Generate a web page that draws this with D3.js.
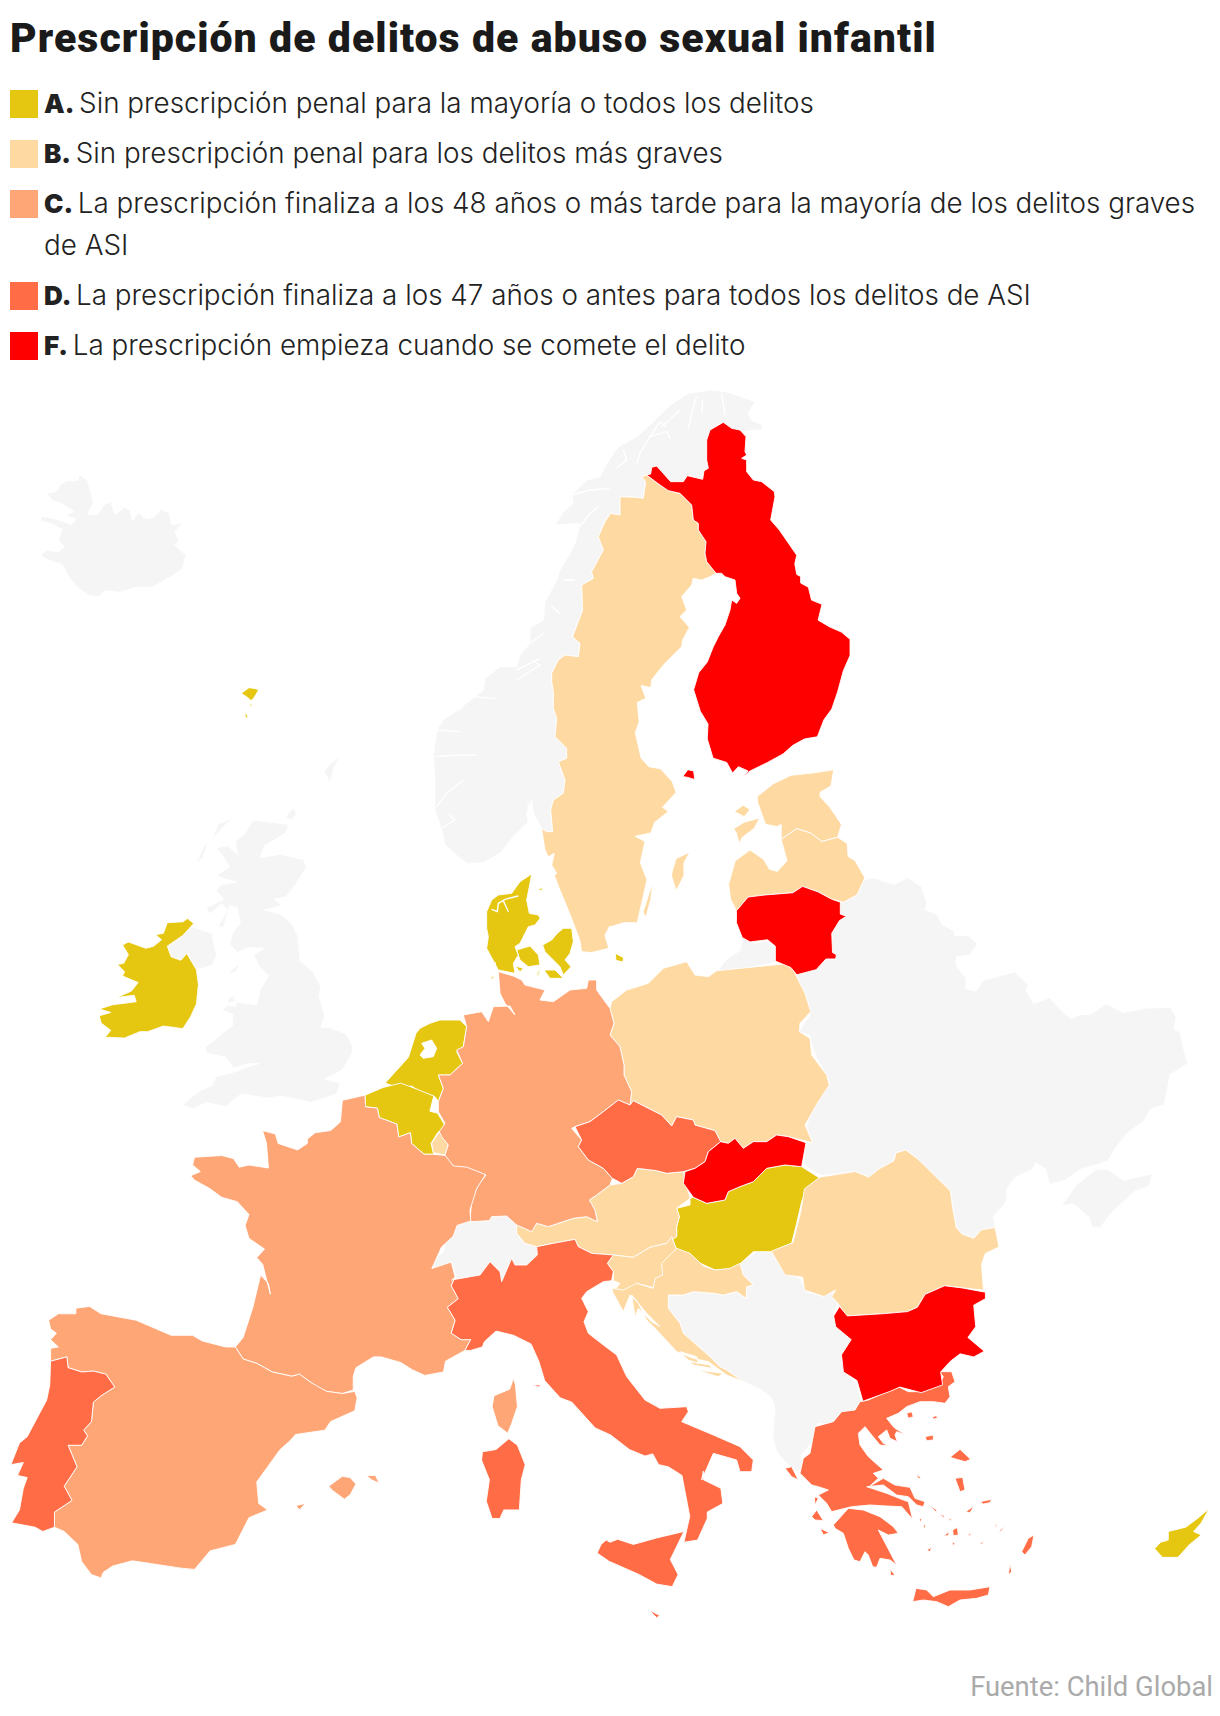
<!DOCTYPE html>
<html>
<head>
<meta charset="utf-8">
<script src="https://d3js.org/d3.v7.min.js"></script>
<style>
  html, body { margin: 0; background: #fff; }
  text { font-family: "Inter", sans-serif; }
</style>
</head>
<body>
<div id="chart"></div>
<script>
// page size
var svgWidth = 1220;
var svgHeight = 1716;

// legend
var categoryKeys = ["A", "B", "C", "D", "F"];
var categoryColors = ["#e5c610", "#fed9a2", "#fea676", "#ff6c45", "#ff0000"];
var categoryLabels = [
  ["Sin prescripción penal para la mayoría o todos los delitos"],
  ["Sin prescripción penal para los delitos más graves"],
  ["La prescripción finaliza a los 48 años o más tarde para la mayoría de los delitos graves", "de ASI"],
  ["La prescripción finaliza a los 47 años o antes para todos los delitos de ASI"],
  ["La prescripción empieza cuando se comete el delito"]
];
var noDataColor = "#f5f5f5";
var titleText = "Prescripción de delitos de abuso sexual infantil";
var sourceText = "Fuente: Child Global";

// a ring is a list of [sheet, "x,y x,y ..."] runs
var sheetNames = ["NW", "NE", "SW", "SE", "C", "B", "N", "S", "G", "D"];
var sheetGrid = [[1568, 1568], [1568, 1568], [1568, 1568], [1568, 1568], [1320, 1320], [900, 900], [900, 900], [600, 780], [810, 750], [450, 390]];
var sheetExtent = [[0, 380, 610, 670], [610, 380, 610, 670], [0, 1040, 610, 676], [610, 1040, 610, 676], [400, 960, 440, 440], [580, 1180, 300, 300], [480, 380, 300, 300], [420, 640, 200, 260], [780, 1370, 270, 250], [470, 870, 150, 130]];

// countries without a category
var iceland = [[["NW", "205,222 225,235 240,285 225,315 250,315 270,290 285,285 295,315 320,298 335,305 340,330 355,310 375,325 395,322 415,302 435,312 442,338 470,335 450,355 460,378 448,385 478,410 470,440 450,455 420,470 390,485 350,485 310,497 270,493 255,507 230,505 205,490 180,465 160,432 120,420 105,410 120,398 150,403 165,390 150,375 160,350 130,335 105,330 105,318 140,325 185,338 195,325 170,318 190,308 160,290 135,282 120,265 145,260 155,245 175,235 200,235"]]];
var shetland = [[["NW", "872,882 860,890 848,900 832,915 845,935 838,952 850,935 858,910"]], [["NW", "740,1015 755,1000 762,1015 750,1030 735,1025"]]];
var britain = [
  [["NW", "650,1030 742,1040 735,1060 680,1090 668,1118 720,1110 780,1122 788,1140 760,1180 735,1210 705,1215 725,1230 680,1240 720,1250 750,1272 765,1300 772,1360 805,1385 825,1420 820,1440 835,1490 825,1515 845,1515 890,1530 907,1560"],
   ["SW", "905,30 880,70 835,90 875,100 865,125 800,145 750,135 720,130 690,135 620,125 580,155 530,145 495,160 470,150 510,120 545,105 555,85 600,75 645,60 665,55 640,55 600,65 580,40 530,30 525,0"],
   ["NW", "530,1560 570,1530 598,1510 598,1485 570,1475 595,1455 660,1462 670,1425 690,1395 665,1370 652,1345 680,1330 640,1328 610,1340 590,1320 600,1290 618,1272 610,1235 590,1230 575,1280 560,1280 585,1240 570,1225 540,1250 530,1235 575,1215 555,1195 570,1180 610,1175 578,1168 555,1160 590,1140 570,1110 555,1095 585,1090 610,1110 605,1080 630,1060"]],
  [["NW", "495,1280 545,1295 552,1330 558,1345 545,1370 515,1378 495,1375 485,1340 465,1358 440,1350 430,1325 470,1300"]],
  [["NW", "600,1025 575,1045 545,1075 560,1040"]],
  [["NW", "525,1090 535,1080 520,1120 505,1130"]],
  [["NW", "585,1450 600,1440 607,1465 590,1465"]],
  [["NW", "590,1385 615,1365 610,1380 595,1390"]]
];
var norway = [[
  ["N", "15,895 60,860 110,860 120,825 150,790 150,745 190,720 195,665 230,600 240,570 270,520 285,490 300,430 225,435 250,395 280,370 275,345 320,300 360,290 380,250 415,200 470,170 520,125 570,75 625,40 690,30 740,35 825,65 805,100 815,120 848,135 845,150 820,150 800,155 780,150 755,145 730,127 690,150 680,180 680,240 685,265 672,272 668,298 622,287 610,305 572,305 530,258 515,262 512,282 500,285 485,290 497,305 490,355 465,352 420,350 420,405 392,400 375,425 355,470 370,510 335,575 340,595 305,615 308,690 278,770 300,790 295,830 255,825 235,840 215,880 215,900"],
  ["S", "395,125 400,155 400,205 410,235 405,290 440,325 440,355 415,365 435,420 430,460 400,480 392,510 398,575 380,575 365,565 340,520 335,480 320,520 325,545 280,590 240,640 190,668 140,670 120,655 75,615 65,570 45,510 45,420 40,350 50,270 70,240 120,205 190,150"]
]];
var easternBlock = [
  [["NE", "600,1222 635,1205 650,1170 680,1165 710,1175 730,1180 765,1165 800,1185 815,1225 810,1240 840,1250 855,1275 885,1290 885,1300 920,1300 945,1320 925,1345 890,1350 890,1370 915,1400 915,1425 940,1430 960,1405 1000,1395 1040,1385 1075,1415 1070,1430 1090,1460 1130,1445 1165,1480 1185,1495 1210,1485 1235,1485 1275,1460 1320,1480 1380,1470 1440,1468 1455,1490 1450,1520 1465,1525 1475,1567"],
   ["SE", "1485,55 1440,80 1425,150 1390,160 1370,190 1330,215 1300,250 1280,280 1250,290 1210,300 1170,325 1130,335 1120,300 1095,285 1085,300 1040,320 1020,345 1020,370 1010,385 985,410 990,435 955,440 935,460 905,450 890,435 880,385 875,350 830,310 790,275 760,255 735,262 730,280 690,300 665,318 630,305 545,315 515,300 500,290 500,240 520,235 505,205 515,165 550,120 565,100 555,80 530,40 515,0"],
   ["NE", "515,1567 515,1535 485,1525 515,1485 500,1445 470,1400 480,1392 530,1380 555,1355 580,1355 582,1345 572,1340 570,1295 590,1265 608,1255 592,1250 592,1222"]],
  [["SE", "1160,385 1200,335 1250,300 1280,300 1320,325 1395,310 1385,340 1350,350 1290,400 1260,435 1240,435 1230,410 1190,380"]],
  [["NE", "275,1385 345,1378 428,1362 422,1330 405,1312 375,1318 340,1305 335,1335 300,1355"]]
];
var switzerland = [[["C", "165,795 210,785 268,782 275,770 320,768 350,795 350,820 375,850 410,850 412,885 380,915 345,915 335,895 305,965 300,935 270,905 240,945 170,958 155,905 95,928 105,900 130,875 135,850 165,815"]]];
var andorra = [[["SW", "800,795 820,795 818,808 805,808"]]];
var westBalkans = [[["B", "480,250 530,215 575,215 612,245 620,280 660,295 670,315 680,335 735,350 745,330 775,345 770,378 760,405 775,445 810,470 815,490 785,520 790,575 830,610 845,665 835,690 780,705 750,735 715,730 705,775 665,825 668,870 650,875 620,850 590,815 578,770 585,685 575,655 545,630 490,605 440,570 420,560 390,530 310,460 300,430 265,385 265,345 310,345 340,335 400,340 430,345 470,335 498,355 500,320 520,315 490,285"]]];

// white fjords cut into the grey of Norway
var fjordLines = [
  ["N", "560,140 540,125 510,170 480,220 470,250"],
  ["N", "430,210 440,240 410,265"],
  ["N", "510,170 560,155 570,175"],
  ["N", "625,145 640,80 650,50"],
  ["N", "665,100 668,60"],
  ["N", "725,40 735,105"],
  ["N", "600,90 545,140"],
  ["N", "275,345 330,330 390,325"],
  ["N", "355,380 330,400 300,440"],
  ["N", "250,600 285,600"],
  ["N", "215,680 240,700"],
  ["N", "150,790 190,760"],
  ["N", "110,870 180,835"],
  ["S", "45,350 115,345 170,345"],
  ["S", "50,270 120,275"],
  ["S", "115,215 150,170 225,175"],
  ["S", "290,120 360,75 335,60"],
  ["S", "130,420 80,460 50,500"],
  ["S", "85,520 105,540 65,565"],
  ["S", "325,490 325,545"]
];

// category A
var ireland = [[["NW", "498,1272 482,1260 470,1268 430,1270 420,1295 400,1298 415,1310 395,1325 375,1330 330,1315 315,1322 330,1345 318,1365 302,1368 320,1385 315,1395 355,1410 338,1430 300,1445 345,1440 350,1455 290,1462 255,1472 285,1480 255,1488 260,1505 270,1512 285,1522 270,1538 320,1540 360,1525 380,1525 420,1512 470,1518 490,1490 505,1460 510,1415 505,1380 480,1342 465,1358 440,1350 430,1325 470,1300"]]];
var faroe = [[["NW", "622,732 640,720 655,722 665,725 652,745 645,750 632,740 622,735"]], [["NW", "640,755 648,762 645,766"]], [["NW", "630,776 637,788 634,793 630,785"]]];
var denmark = [
  [["D", "185,12 150,35 125,70 85,75 65,90 50,125 50,175 55,200 50,235 85,300 135,310 130,280 145,255 135,230 150,220 175,170 195,165 210,145 205,135 178,130 170,90 178,50"]],
  [["D", "140,240 180,228 205,255 210,285 175,290 150,270"]],
  [["D", "218,225 245,210 262,190 280,175 305,175 310,215 300,250 285,270 303,290 280,315 270,290 250,270 225,245"]],
  [["D", "222,300 255,300 280,325 240,325"]],
  [["D", "135,288 160,295 150,305"]],
  [["D", "200,315 213,285 205,317"]],
  [["D", "205,58 220,52 213,63"]],
  [["D", "70,275 78,280 70,283"]],
  [["D", "65,320 75,320 62,330"]],
  [["NE", "14,1342 35,1352 33,1362 15,1358"]]
];
var limfjord = [
  ["D", "65,118 82,125 85,100 105,88 145,78"],
  ["D", "100,92 115,125"]
];
var netherlands = [
  [["C", "48,220 60,205 90,190 120,180 180,180 200,200 190,260 170,275 188,310 150,345 115,345 130,385 115,425 105,410 60,395 35,378 0,385"], ["SW", "990,100 1020,70 1050,40"]],
  [["C", "65,250 95,240 110,265 100,290 70,295 60,285 75,265"]]
];
var belgium = [[["SW", "938,128 985,110 1030,100 1060,110 1115,130 1105,165 1125,170 1145,200 1125,215 1108,240 1115,265 1090,265 1058,240 1055,215 1025,225 1020,195 975,180 970,158 940,155"]]];
var hungary = [[["C", "870,715 880,712 920,730 975,720 985,695 1020,680 1060,665 1100,625 1155,615 1205,620 1260,655 1225,680 1205,725 1190,790 1175,850 1115,875 1060,875 1000,930 945,930 890,905 830,870 815,830 830,830 830,800 838,770 830,745 870,735"]]];
var cyprus = [[["SE", "1400,1180 1415,1165 1435,1160 1435,1140 1480,1130 1510,1110 1540,1087 1520,1120 1500,1140 1520,1148 1490,1170 1460,1200 1420,1200"]]];

// category B
var sweden = [
  [["N", "485,290 500,285 540,315 565,332 600,340 635,375 640,420 655,430 655,450 678,485 675,520 680,545 708,580 690,590 665,600 640,595 635,615 605,650 620,690 600,710 628,742 608,780 605,800 555,850 530,880 515,900"],
   ["NE", "105,720 80,715 92,745 70,755 75,800 65,825 80,885 100,905 130,910 160,940 170,965 135,1000 150,1010 115,1035 105,1060 65,1068 90,1080 78,1130 95,1170 70,1270 35,1270 0,1280"],
   ["NW", "1567,1278 1555,1300 1565,1330 1520,1340 1495,1338 1490,1310 1465,1250 1440,1195 1425,1160"],
   ["S", "410,700 395,675 403,640 385,650 375,630 370,600 365,565 380,575 398,575 392,510 400,480 430,460 435,420 415,365 440,355 440,325 405,290 410,235 400,205 400,155 395,125"],
   ["N", "215,900 215,880 235,840 255,825 295,830 300,790 278,770 308,690 305,615 340,595 335,575 370,510 355,470 375,425 392,400 420,405 420,350 465,352 490,355 497,305"]],
  [["NE", "160,1150 170,1120 205,1105 190,1130 190,1160 170,1195 158,1160"]],
  [["NE", "110,1175 85,1245 92,1258 105,1215"]]
];
var estonia = [
  [["NE", "378,975 420,945 465,925 520,920 575,912 568,950 540,965 540,975 565,1000 595,1040 585,1070 545,1080 515,1060 480,1050 440,1075 440,1040 430,1045 400,1040 380,990"]],
  [["NE", "318,1050 345,1035 385,1025 370,1050 340,1070 332,1085 325,1060"]],
  [["NE", "320,1010 342,995 360,1005 345,1022"]]
];
var latvia = [[["NE", "440,1075 480,1050 515,1060 545,1080 585,1070 610,1085 612,1115 630,1125 655,1165 635,1205 600,1222 570,1215 535,1198 495,1185 470,1200 400,1205 355,1210 325,1242 310,1215 305,1180 322,1125 360,1100 395,1122 410,1145 430,1150 455,1125"]]];
var poland = [[["C", "635,125 680,90 745,70 790,25 860,5 885,45 925,50 950,32 1170,10 1190,50 1215,100 1232,155 1200,190 1198,215 1230,235 1235,285 1280,345 1288,375 1255,425 1215,495 1238,548 1165,530 1130,525 1100,545 1060,545 1030,565 1005,535 985,550 962,545 945,512 885,495 880,480 830,470 815,498 785,465 765,455 700,422 690,435 695,395 672,345 672,315 660,260 630,225 642,190 630,145"]]];
var luxembourg = [[["C", "118,515 95,550 100,578 135,585 145,555"]]];
var austria = [[["C", "350,795 395,815 410,790 445,800 475,790 520,775 560,770 592,785 585,750 568,720 590,705 630,675 665,670 700,650 712,625 770,632 800,640 850,635 870,715 830,745 838,770 830,800 830,830 800,850 750,862 700,892 640,885 575,880 535,860 525,838 460,850 410,860 375,850 350,820"]]];
var slovenia = [[["C", "640,885 700,892 750,862 800,850 815,830 830,870 790,905 790,945 765,960 770,985 710,970 690,990 640,995 660,970 640,962 640,935 622,910"]]];
var croatia = [
  [["B", "290,205 330,220 370,258 405,270 450,265 480,250 490,285 520,315 500,320 498,355 470,335 430,345 400,340 340,335 310,345 265,345 265,385 300,430 310,460 390,530 420,560 440,570 490,605 440,585 385,545 340,535 290,515 235,455 200,420 175,370 150,345 130,395 100,340 95,325 130,330 170,310 220,325 225,295 248,285 245,250"]],
  [["B", "300,515 350,530 355,550 325,540"]],
  [["B", "330,545 390,555 395,565 340,555"]],
  [["B", "350,570 430,580 415,590"]],
  [["B", "155,345 200,400 240,440 215,425 175,385 165,410"]]
];
var romania = [[["SE", "540,318 630,305 665,318 690,300 730,280 735,262 760,255 790,275 830,310 875,350 880,385 890,435 905,450 935,460 955,440 990,435 1000,480 965,495 955,520 960,580 905,575 860,570 810,590 790,620 765,630 700,635 605,640 590,615 570,595 580,580 550,595 500,580 495,550 450,545 415,490 470,470 490,400 500,345"]]];

// category C
var germany = [[["C", "295,35 340,48 365,60 375,75 435,90 420,120 460,125 510,90 560,85 565,60 590,60 590,90 615,125 630,145 642,190 630,225 660,260 672,315 672,345 695,395 690,435 655,420 610,455 570,485 525,500 515,505 545,540 535,560 565,600 610,625 637,655 630,675 590,705 568,720 585,750 592,785 560,770 520,775 475,790 445,800 410,790 395,815 350,795 320,768 275,770 268,782 210,785 215,720 235,675 258,645 200,625 165,625 140,595 135,585 145,555 125,530 118,515 135,490 115,455 115,425 130,385 115,345 150,345 188,310 170,270 190,260 200,200 190,165 245,155 265,185 280,140 330,138 345,165 315,130 300,100"]]];
var france = [
  [["SW", "880,140 938,128 940,155 970,158 975,180 1020,195 1025,225 1055,215 1058,240 1090,265 1115,265 1145,268 1165,292 1200,295 1248,312 1225,345 1208,395 1210,420 1175,430 1165,455 1135,480 1120,510 1110,530 1160,515 1170,550 1160,570 1178,600 1150,620 1170,650 1160,680 1185,695 1210,695 1195,720 1175,730 1145,745 1140,770 1092,778 1060,765 1030,748 980,735 960,735 915,760 908,780 908,812 880,820 840,815 820,808 800,795 770,775 750,780 700,770 660,750 625,740 605,712 625,690 650,620 670,545 690,565 695,590 675,520 660,505 680,485 640,460 630,430 640,405 610,375 570,365 540,345 500,325 490,315 515,305 495,290 500,272 570,268 600,275 615,295 640,290 690,297 685,240 675,210 708,218 715,240 765,255 790,240 790,230 810,215 850,210 875,190"]],
  [["SW", "1320,785 1325,800 1330,850 1315,890 1305,912 1280,895 1265,850 1270,825 1310,810"]]
];
var spain = [
  [["SW", "125,650 150,635 195,635 195,622 230,618 260,635 350,650 440,685 495,685 520,698 580,712 605,712 625,740 660,750 700,770 750,780 770,775 800,795 840,815 880,820 912,815 918,830 912,860 850,885 835,905 760,915 745,930 720,950 660,1025 665,1075 688,1090 640,1108 605,1170 540,1185 500,1228 465,1225 340,1208 290,1220 265,1235 260,1248 235,1240 210,1210 200,1170 165,1140 140,1130 140,1095 185,1068 165,1035 198,990 175,940 210,940 225,918 215,905 235,885 240,840 260,825 295,805 272,775 240,768 210,770 175,760 172,735 130,745 130,715 150,712 130,695 145,680 130,670"]],
  [["SW", "845,1035 880,1012 900,1015 915,1030 900,1055 885,1065 855,1045"]],
  [["SW", "942,1010 965,1010 975,1028 955,1020"]],
  [["SW", "760,1080 785,1075 770,1090"]]
];

// category D
var portugal = [[["SW", "130,745 172,735 175,760 210,770 240,768 272,775 295,805 260,825 240,840 235,885 215,905 225,918 210,940 175,940 198,990 165,1035 185,1068 140,1095 140,1130 110,1140 90,1130 30,1120 50,1090 60,1040 70,1015 45,1010 60,980 28,985 50,935 70,920 120,835 128,800"]]];
var italy = [
  [["C", "155,960 240,945 270,905 300,935 305,965 335,895 345,915 380,915 412,885 410,860 460,850 525,838 535,860 575,880 640,885 622,910 640,935 635,962 610,965 560,995 545,1015 565,1055 552,1085 565,1120 610,1155 650,1185 680,1250 735,1320"],
   ["B", "240,685 320,680 325,695 305,725 400,765 480,800 520,840 515,875 480,875 470,840 400,820 365,900"],
   ["SE", "240,1000 240,1020 285,1040 290,1075 250,1095 250,1110 225,1160 190,1165 205,1105 185,1010 150,990 125,985 110,960 90,965 50,950 0,915"],
   ["SW", "1567,915 1530,900 1470,840 1440,830 1400,790 1385,745 1365,705 1320,685 1275,675 1245,700 1240,712 1210,720 1195,720 1210,695 1185,695 1160,680 1170,650 1150,620 1178,600 1160,570 1170,550"]],
  [["SE", "190,1140 155,1205 175,1240 160,1268 120,1262 75,1240 0,1210"], ["SW", "1567,1210 1535,1190 1545,1170 1558,1160"], ["SE", "0,1165 20,1158 60,1170 120,1155"]],
  [["SW", "1308,925 1330,940 1350,985 1340,1020 1335,1090 1295,1090 1285,1110 1265,1110 1250,1070 1258,1020 1238,975 1240,955 1275,950"]],
  [["SW", "1368,800 1390,800 1385,805"]],
  [["SE", "100,1322 128,1335 120,1340"]]
];
var czechia = [[["C", "525,500 570,485 610,455 655,420 690,435 700,422 765,455 785,465 815,498 830,470 880,480 885,495 945,512 962,545 925,575 915,605 885,625 850,635 800,640 770,632 712,625 700,650 665,670 637,655 610,625 565,600 535,560 545,540"]]];
var greece = [
  [["G", "240,95 265,90 330,60 355,50 385,65 430,65 480,40 490,20 478,5 515,5 525,35 505,50 510,80 495,100 460,95 420,95 380,110 355,130 320,145 340,170 345,175 378,195 350,185 345,195 352,215 330,205 320,180 295,200 310,220 328,228 300,225 275,195 255,170 235,190 240,225 265,260 310,300 280,310 295,325 270,348 310,325 345,345 390,352 405,385 435,395 430,410 410,405 385,380 350,375 310,345 260,350 320,370 370,390 385,395 398,448 365,410 320,408 270,405 215,410 175,420 155,425 140,400 115,375 145,360 115,350 95,345 60,310 70,265 90,250 105,170 160,155 185,125 225,120"]],
  [["G", "160,465 205,415 250,420 300,440 340,470 355,490 325,495 295,480 350,585 330,570 300,565 290,592 278,590 265,555 255,545 240,575 222,570 205,535 190,490 165,475"]],
  [["G", "398,695 408,655 440,660 460,680 510,660 570,660 630,650 625,675 590,685 540,690 505,710 470,695 430,690"]],
  [["G", "380,130 395,125 400,140 385,145"]],
  [["G", "457,140 470,137 472,145 460,147"]],
  [["G", "435,200 460,195 460,210 440,212"]],
  [["G", "510,262 540,238 572,268 555,275 530,268"]],
  [["G", "525,325 548,322 555,360 540,365"]],
  [["G", "600,395 635,388 630,398 610,402"]],
  [["G", "557,425 582,408 570,428"]],
  [["G", "650,488 678,467 665,482"]],
  [["G", "725,545 745,505 762,495 755,530 735,555"]],
  [["G", "690,580 695,605 685,615"]],
  [["G", "645,460 652,468 647,470"]],
  [["G", "518,480 532,472 535,495 520,497"]],
  [["G", "490,498 508,485 505,497"]],
  [["G", "448,405 470,420 470,428"]],
  [["G", "478,433 495,437 490,442"]],
  [["G", "440,540 455,532 450,545"]],
  [["G", "515,515 525,520 520,527"]],
  [["G", "15,295 35,290 55,330 35,320"]],
  [["G", "95,440 110,420 130,452 105,450"]],
  [["G", "120,475 148,488 130,495"]],
  [["G", "103,380 115,385 105,405"]],
  [["G", "330,597 345,615 332,617"]],
  [["G", "408,312 425,325 415,325"]],
  [["G", "562,495 575,488 570,497"]],
  [["G", "600,518 612,515 605,523"]],
  [["G", "430,462 437,468 432,478"]],
  [["G", "505,445 515,447 510,452"]],
  [["G", "418,445 426,447 422,458"]]
];

// category F
var finland = [
  [["N", "512,282 515,262 530,258 572,305 610,305 622,287 668,298 672,272 685,265 680,240 680,180 690,150 730,127 755,145 780,150 798,170 795,215 800,225 785,235 800,240 800,275 820,300 845,305 883,335 885,350 872,420 898,450"],
   ["NE", "480,410 475,430 480,455 490,460 490,475 510,485 518,515 545,525 535,562 565,578 595,590 617,607 617,645 600,680 585,730 570,770 550,795 533,835 500,840 470,855 445,875 405,895 360,915 340,930 355,915 330,905 315,920 300,895 265,885 250,840 252,805 232,775 215,725 228,685 250,660"],
   ["N", "700,800 715,770 735,735 750,690 755,660 770,670 780,655 770,640 765,600 735,590 725,580 708,580 680,545 675,520 678,485 655,450 655,430 640,420 635,375 600,340 565,332 540,315 500,285"]],
  [["NE", "187,928 200,912 215,915 218,935 200,930"]]
];
var lithuania = [[["NE", "325,1242 355,1210 400,1205 470,1200 495,1185 535,1198 570,1215 592,1222 592,1250 608,1255 590,1265 570,1295 572,1340 582,1345 580,1355 555,1355 530,1380 480,1392 465,1375 425,1360 425,1325 405,1310 360,1315 340,1305 325,1270"]]];
var slovakia = [[["C", "962,545 985,550 1005,535 1030,565 1060,545 1100,545 1130,525 1165,530 1218,548 1205,620 1155,615 1100,625 1060,665 1020,680 985,695 975,720 920,730 880,712 850,670 855,635 885,625 915,605 925,575"]]];
var bulgaria = [[["SE", "590,618 610,640 700,635 765,630 790,620 810,590 860,570 905,575 965,585 965,600 935,615 940,665 920,690 962,722 935,735 900,728 875,745 850,770 855,800 800,818 745,805 720,815 650,838 635,790 600,770 595,730 620,695 580,665 575,640"]]];

// which country goes with which category, grey ones first
var countryGroups = [
  { cat: null, shapes: [iceland, shetland, britain, norway, easternBlock, switzerland, andorra, westBalkans] },
  { cat: "A", shapes: [ireland, faroe, denmark, netherlands, belgium, hungary, cyprus] },
  { cat: "B", shapes: [sweden, estonia, latvia, poland, luxembourg, austria, slovenia, croatia, romania] },
  { cat: "C", shapes: [germany, france, spain] },
  { cat: "D", shapes: [portugal, italy, czechia, greece] },
  { cat: "F", shapes: [finland, lithuania, slovakia, bulgaria] }
];

var svg = d3.select("#chart")
  .append("svg")
  .attr("width", svgWidth)
  .attr("height", svgHeight);

// one pair of scales for every sheet
var sheets = {};
sheetNames.forEach(function(name, i) {
  var ext = sheetExtent[i];
  sheets[name] = {
    x: d3.scaleLinear().domain([0, sheetGrid[i][0]]).range([ext[0], ext[0] + ext[2]]),
    y: d3.scaleLinear().domain([0, sheetGrid[i][1]]).range([ext[1], ext[1] + ext[3]])
  };
});

function runToCoords(run) {
  var s = sheets[run[0]];
  return run[1].split(" ").map(function(p) {
    var xy = p.split(",");
    return [s.x(+xy[0]), s.y(+xy[1])];
  });
}

function ringToCoords(ring) {
  var coords = d3.merge(ring.map(runToCoords));
  coords.push(coords[0]);
  return coords;
}

// the outlines are already flat, so an identity projection does the job
var path = d3.geoPath(d3.geoIdentity());
var colorScale = d3.scaleOrdinal().domain(categoryKeys).range(categoryColors);

var mapGroup = svg.append("g").attr("class", "map");

countryGroups.forEach(function(group) {
  mapGroup.selectAll(null)
    .data(group.shapes)
    .enter()
    .append("path")
    .attr("d", function(shape) {
      return path({ type: "MultiPolygon", coordinates: shape.map(function(r) { return [ringToCoords(r)]; }) });
    })
    .attr("fill", group.cat ? colorScale(group.cat) : noDataColor)
    .attr("fill-rule", "evenodd")
    .attr("stroke", "#fff")
    .attr("stroke-width", 0.9)
    .attr("stroke-linejoin", "round");
});

// fjords on top
mapGroup.append("path")
  .attr("d", path({ type: "MultiLineString", coordinates: fjordLines.concat(limfjord).map(runToCoords) }))
  .attr("fill", "none")
  .attr("stroke", "#fff")
  .attr("stroke-width", 1.4)
  .attr("stroke-linejoin", "round");

// title
svg.append("text")
  .attr("x", 10)
  .attr("y", 52)
  .style("font-family", "Roboto, sans-serif")
  .style("font-size", "41px")
  .style("font-weight", 900)
  .style("letter-spacing", "1.05px")
  .style("fill", "#1a1a1a")
  .text(titleText);

// legend
var legendTop = [90, 140, 190, 282, 332];
var legendRows = svg.selectAll(".legend-row")
  .data(categoryKeys)
  .enter()
  .append("g")
  .attr("class", "legend-row")
  .attr("transform", function(d, i) { return "translate(0," + legendTop[i] + ")"; });

legendRows.append("rect")
  .attr("x", 10)
  .attr("y", 0)
  .attr("width", 28)
  .attr("height", 28)
  .attr("fill", function(d) { return colorScale(d); });

legendRows.each(function(d, i) {
  var lines = categoryLabels[i];
  var row = d3.select(this);
  var first = row.append("text")
    .attr("x", 44)
    .attr("y", 23)
    .style("font-size", "27.8px")
    .style("font-weight", 300)
    .style("fill", "#222");
  first.append("tspan").style("font-weight", 900).style("font-size", "26px").text(d + ". ");
  first.append("tspan").attr("dx", 1).text(lines[0]);
  if (lines[1]) {
    row.append("text")
      .attr("x", 44)
      .attr("y", 65)
      .style("font-size", "27.8px")
      .style("font-weight", 300)
      .style("fill", "#222")
      .text(lines[1]);
  }
});

// source
svg.append("text")
  .attr("x", 1213)
  .attr("y", 1696)
  .style("font-family", "Roboto, sans-serif")
  .style("text-anchor", "end")
  .style("font-size", "27.4px")
  .style("fill", "#aaa")
  .text(sourceText);
</script>
</body>
</html>
